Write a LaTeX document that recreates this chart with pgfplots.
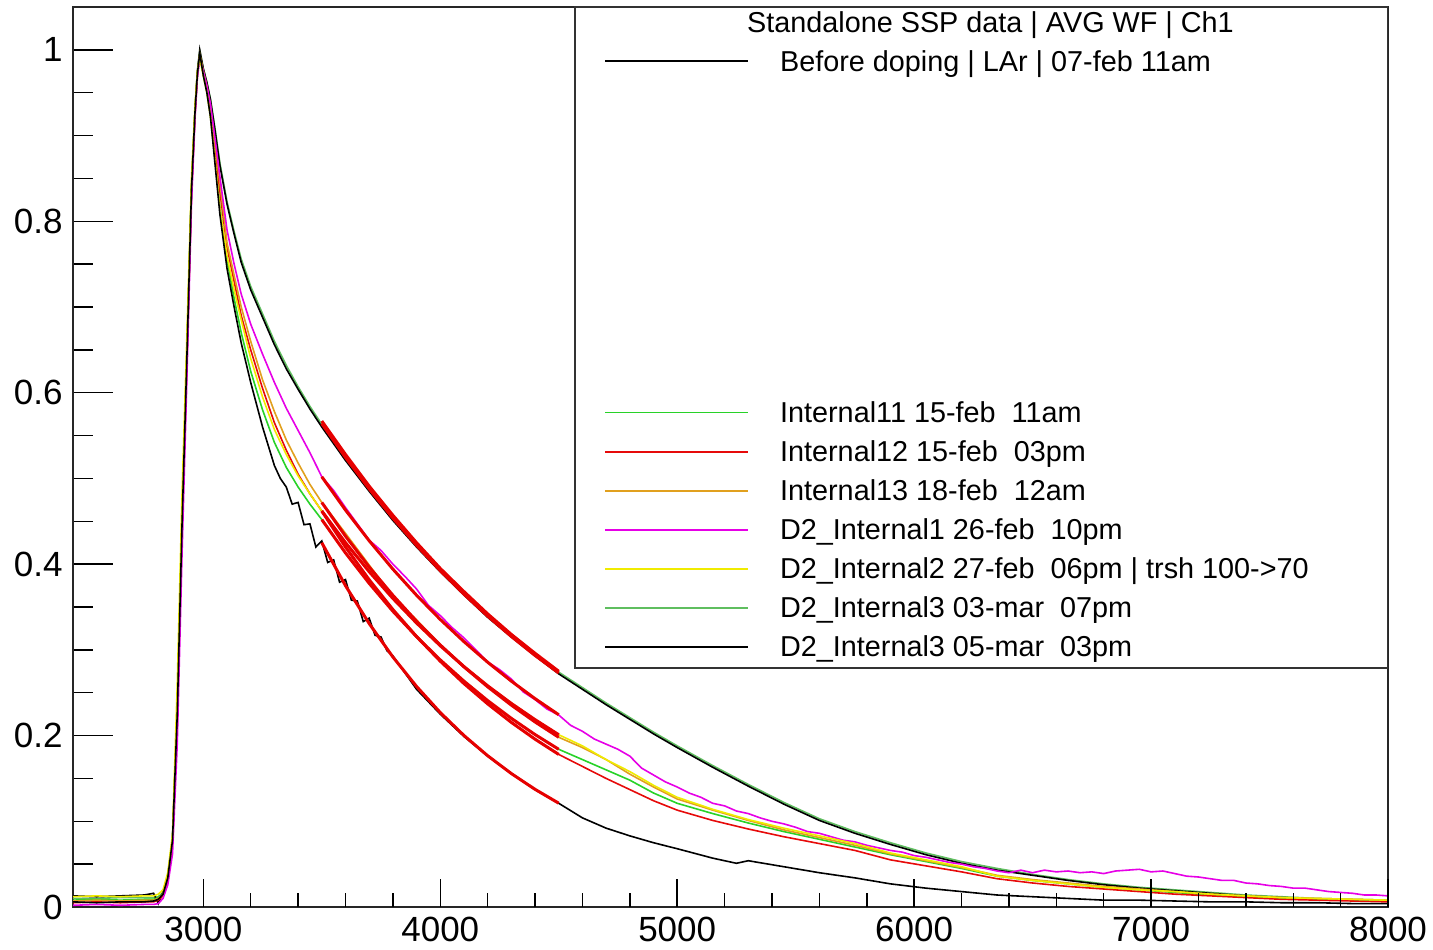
\documentclass[border=0pt]{standalone}
\usepackage{fontspec}
\setmainfont{Liberation Sans}
\usepackage{pgfplots}
\usepackage{pgfplotstable}
\pgfplotsset{compat=1.18}
\definecolor{cGreen}{RGB}{40,210,40}
\definecolor{cIntR}{RGB}{230,10,10}
\definecolor{cOrange}{RGB}{225,160,30}
\definecolor{cMag}{RGB}{230,0,230}
\definecolor{cYel}{RGB}{240,235,0}
\definecolor{cGreenB}{RGB}{95,190,95}
\definecolor{cFit}{RGB}{230,0,0}

% x | Before doping | Int11 | Int12 | Int13 | D2_Int2 | D2_Int3 03-mar
\pgfplotstableread{
x    B0    G1    R2    O3    Y5    G6
2450 0.013 0.008 0.005 0.007 0.012 0.010
2550 0.012 0.009 0.006 0.008 0.013 0.010
2650 0.013 0.008 0.005 0.007 0.012 0.011
2750 0.014 0.009 0.006 0.008 0.013 0.011
2790 0.016 0.009 0.006 0.008 0.013 0.011
2810 0.004 0.011 0.008 0.010 0.015 0.012
2830 0.018 0.016 0.013 0.015 0.020 0.017
2850 0.036 0.035 0.032 0.034 0.040 0.036
2870 0.080 0.078 0.075 0.076 0.085 0.079
2890 0.230 0.225 0.220 0.222 0.260 0.228
2910 0.450 0.445 0.440 0.442 0.480 0.448
2930 0.640 0.635 0.630 0.632 0.660 0.638
2950 0.840 0.835 0.832 0.834 0.850 0.838
2965 0.930 0.928 0.925 0.927 0.935 0.930
2975 0.975 0.972 0.970 0.972 0.975 0.974
2985 1.000 0.995 0.993 0.995 0.990 0.998
3000 0.978 0.972 0.972 0.975 0.970 0.978
3015 0.962 0.952 0.955 0.958 0.950 0.962
3030 0.942 0.925 0.930 0.935 0.922 0.943
3050 0.905 0.872 0.882 0.890 0.870 0.907
3070 0.865 0.818 0.835 0.845 0.815 0.868
3100 0.820 0.755 0.770 0.775 0.760 0.823
3130 0.785 0.710 0.730 0.737 0.720 0.788
3160 0.752 0.670 0.690 0.700 0.685 0.756
3200 0.720 0.625 0.650 0.660 0.640 0.724
3250 0.688 0.580 0.605 0.615 0.595 0.692
3300 0.656 0.542 0.565 0.578 0.557 0.660
3350 0.628 0.513 0.533 0.545 0.528 0.632
3400 0.604 0.490 0.505 0.518 0.503 0.607
3450 0.581 0.470 0.482 0.493 0.482 0.584
3500 0.560 0.452 0.462 0.472 0.462 0.563
3600 0.521 0.413 0.420 0.436 0.425 0.524
3700 0.485 0.378 0.382 0.399 0.393 0.488
3800 0.451 0.345 0.347 0.362 0.360 0.454
3900 0.420 0.315 0.316 0.335 0.331 0.423
4000 0.391 0.288 0.287 0.306 0.305 0.394
4100 0.364 0.264 0.261 0.280 0.281 0.366
4200 0.338 0.241 0.237 0.257 0.258 0.340
4300 0.315 0.220 0.215 0.236 0.238 0.317
4400 0.293 0.201 0.196 0.216 0.219 0.295
4500 0.272 0.184 0.178 0.198 0.201 0.274
4600 0.254 0.172 0.164 0.186 0.188 0.256
4700 0.236 0.160 0.150 0.172 0.172 0.238
4800 0.219 0.148 0.137 0.155 0.158 0.221
4900 0.202 0.133 0.124 0.140 0.142 0.204
5000 0.186 0.121 0.113 0.126 0.128 0.188
5150 0.163 0.109 0.101 0.113 0.114 0.165
5300 0.141 0.098 0.091 0.101 0.102 0.143
5450 0.120 0.088 0.082 0.090 0.092 0.122
5600 0.101 0.079 0.074 0.081 0.083 0.103
5750 0.086 0.070 0.066 0.072 0.074 0.088
5900 0.073 0.061 0.055 0.062 0.063 0.075
6050 0.061 0.053 0.048 0.054 0.055 0.063
6200 0.051 0.045 0.041 0.046 0.047 0.053
6350 0.043 0.036 0.033 0.037 0.036 0.045
6500 0.037 0.031 0.028 0.032 0.031 0.038
6650 0.031 0.027 0.024 0.028 0.027 0.032
6800 0.026 0.023 0.021 0.024 0.023 0.027
6950 0.022 0.020 0.018 0.021 0.020 0.023
7100 0.019 0.017 0.015 0.018 0.018 0.020
7250 0.016 0.014 0.013 0.015 0.015 0.017
7400 0.013 0.012 0.011 0.013 0.013 0.014
7550 0.011 0.010 0.009 0.011 0.011 0.012
7700 0.009 0.009 0.008 0.010 0.010 0.010
7850 0.008 0.008 0.007 0.009 0.009 0.009
8000 0.007 0.007 0.006 0.008 0.008 0.008
}\wftab

% D2_Internal1 26-feb (magenta)
\pgfplotstableread{
x    y
2450 0.002
2550 0.003
2650 0.002
2750 0.003
2790 0.003
2810 0.004
2830 0.010
2850 0.026
2870 0.062
2890 0.190
2910 0.410
2930 0.610
2950 0.820
2965 0.920
2975 0.968
2985 0.990
3000 0.975
3015 0.958
3030 0.937
3050 0.895
3070 0.852
3100 0.790
3130 0.750
3160 0.715
3200 0.680
3250 0.645
3300 0.612
3350 0.582
3400 0.556
3450 0.530
3500 0.502
3550 0.486
3600 0.466
3650 0.447
3700 0.428
3750 0.416
3800 0.400
3850 0.386
3900 0.371
3950 0.352
4000 0.340
4050 0.326
4100 0.314
4150 0.300
4200 0.286
4250 0.277
4300 0.266
4350 0.251
4400 0.242
4450 0.231
4500 0.224
4550 0.212
4600 0.205
4650 0.196
4700 0.190
4750 0.184
4800 0.176
4850 0.162
4900 0.154
4950 0.146
5000 0.140
5050 0.133
5100 0.128
5150 0.121
5200 0.118
5250 0.112
5300 0.109
5350 0.104
5400 0.100
5450 0.097
5500 0.093
5550 0.088
5600 0.086
5650 0.082
5700 0.078
5750 0.076
5800 0.072
5850 0.069
5900 0.066
5950 0.064
6000 0.060
6050 0.058
6100 0.055
6150 0.052
6200 0.050
6250 0.047
6300 0.045
6350 0.042
6400 0.040
6450 0.043
6500 0.040
6550 0.043
6600 0.041
6650 0.042
6700 0.040
6750 0.041
6800 0.039
6850 0.042
6900 0.043
6950 0.044
7000 0.041
7050 0.042
7100 0.039
7150 0.036
7200 0.035
7250 0.033
7300 0.031
7350 0.031
7400 0.028
7450 0.027
7500 0.025
7550 0.024
7600 0.022
7650 0.022
7700 0.020
7750 0.018
7800 0.017
7850 0.016
7900 0.014
7950 0.014
8000 0.013
}\magtab

% D2_Internal3 05-mar (black, lowest)
\pgfplotstableread{
x    y
2450 0.006
2550 0.005
2650 0.006
2750 0.006
2790 0.007
2810 0.009
2830 0.015
2850 0.034
2870 0.078
2890 0.225
2910 0.445
2930 0.635
2950 0.836
2965 0.928
2975 0.972
2985 0.996
3000 0.970
3015 0.950
3030 0.922
3050 0.865
3070 0.808
3100 0.745
3130 0.700
3160 0.658
3200 0.612
3250 0.560
3300 0.515
3325 0.500
3350 0.490
3375 0.470
3400 0.472
3425 0.446
3450 0.447
3475 0.420
3500 0.427
3525 0.402
3550 0.405
3575 0.379
3600 0.382
3625 0.358
3650 0.357
3675 0.333
3700 0.337
3725 0.317
3750 0.315
3775 0.299
3800 0.293
3900 0.254
4000 0.225
4100 0.199
4200 0.176
4300 0.156
4400 0.137
4500 0.121
4600 0.104
4700 0.092
4800 0.083
4900 0.075
5000 0.068
5150 0.057
5250 0.051
5300 0.054
5450 0.047
5600 0.040
5750 0.034
5900 0.027
6050 0.022
6200 0.018
6350 0.014
6500 0.012
6650 0.010
6800 0.008
6950 0.008
7100 0.007
7250 0.006
7400 0.006
7550 0.005
7700 0.005
7850 0.004
8000 0.004
}\blktab

% exponential fits, 3500-4500
\pgfplotstableread{
x    B0     G1     R2     O3     M4     Y5     G6     B7
3500 0.564  0.452  0.462  0.472  0.502  0.462  0.567  0.425
3600 0.5245 0.4131 0.4200 0.4327 0.4631 0.4251 0.528  0.3749
3700 0.4878 0.3776 0.3818 0.3967 0.4273 0.3912 0.491  0.3307
3800 0.4537 0.3451 0.3471 0.3637 0.3942 0.3600 0.457  0.2917
3900 0.4219 0.3154 0.3155 0.3334 0.3637 0.3313 0.425  0.2573
4000 0.3924 0.2883 0.2868 0.3057 0.3355 0.3048 0.395  0.2269
4100 0.3649 0.2635 0.2607 0.2802 0.3096 0.2805 0.368  0.2001
4200 0.3394 0.2408 0.2370 0.2569 0.2856 0.2581 0.342  0.1765
4300 0.3156 0.2201 0.2154 0.2355 0.2635 0.2375 0.318  0.1557
4400 0.2935 0.2012 0.1958 0.2159 0.2431 0.2186 0.296  0.1373
4500 0.2730 0.1840 0.1780 0.1980 0.2243 0.2010 0.275  0.1211
}\fittab

\begin{document}
\begin{tikzpicture}
\useasboundingbox (-36.5pt,-21pt) rectangle (680pt,453.5pt);
\begin{axis}[
  at={(0,0)}, anchor=south west,
  scale only axis, width=657.5pt, height=450pt,
  xmin=2450, xmax=8000, ymin=0, ymax=1.05,
  axis line style={line width=1pt, black!85},
  tick pos=left, tick align=inside,
  xtick=\empty,
  ytick={0,0.2,0.4,0.6,0.8,1},
  minor ytick={0.05,0.1,0.15,0.25,0.3,0.35,0.45,0.5,0.55,0.65,0.7,0.75,0.85,0.9,0.95},
  major tick length=20pt, minor tick length=10pt,
  tick style={line width=0.75pt, black},
  /pgf/number format/assume math mode=true,
  /pgf/number format/1000 sep={},
  scaled ticks=false,
  yticklabel style={font=\fontsize{17.5}{20}\selectfont, inner sep=0pt, /pgf/number format/fixed},
  yticklabel shift=5pt,
  legend image code/.code={\path (0pt,0pt) (101.5pt,0pt); \draw[#1] (14.5pt,0pt) -- (86pt,0pt);},
  legend cell align=left,
  legend style={at={(axis cs:4570,1.05)}, anchor=north west, yshift=2.27pt,
    draw=none, fill=none, inner sep=0pt, outer sep=0pt, row sep=0pt, column sep=0pt,
    font=\fontsize{14.4}{17}\selectfont,
    nodes={inner sep=0pt, outer sep=0pt, text height=14.77pt, text depth=4.76pt}},
]
\addplot[forget plot, cGreenB, line width=0.8pt] table[x=x,y=G6]{\wftab};
\addplot[forget plot, black, line width=0.8pt] table[x=x,y=B0]{\wftab};
\addplot[forget plot, cGreen, line width=0.8pt] table[x=x,y=G1]{\wftab};
\addplot[forget plot, cIntR, line width=0.8pt] table[x=x,y=R2]{\wftab};
\addplot[forget plot, cOrange, line width=0.8pt] table[x=x,y=O3]{\wftab};
\addplot[forget plot, cMag, line width=0.8pt] table[x=x,y=y]{\magtab};
\addplot[forget plot, cYel, line width=0.8pt] table[x=x,y=Y5]{\wftab};
\addplot[forget plot, black, line width=0.8pt] table[x=x,y=y]{\blktab};

\addplot[forget plot, cFit, line width=1.5pt] table[x=x,y=B0]{\fittab};
\addplot[forget plot, cFit, line width=1.5pt] table[x=x,y=G6]{\fittab};
\addplot[forget plot, cFit, line width=1.5pt] table[x=x,y=M4]{\fittab};
\addplot[forget plot, cFit, line width=1.5pt] table[x=x,y=O3]{\fittab};
\addplot[forget plot, cFit, line width=1.5pt] table[x=x,y=Y5]{\fittab};
\addplot[forget plot, cFit, line width=1.5pt] table[x=x,y=G1]{\fittab};
\addplot[forget plot, cFit, line width=1.5pt] table[x=x,y=R2]{\fittab};
\addplot[forget plot, cFit, line width=1.5pt] table[x=x,y=B7]{\fittab};

\draw[line width=0.9pt, black!80, fill=white] (axis cs:4570,0.279) rectangle (axis cs:8000,1.05);

\addlegendimage{empty legend}\addlegendentry{\hspace*{-16.5pt}Standalone SSP data | AVG WF | Ch1}
\addlegendimage{draw=black, line width=0.8pt}\addlegendentry{Before doping | LAr | 07-feb 11am}
\addlegendimage{empty legend}\addlegendentry{~}
\addlegendimage{empty legend}\addlegendentry{~}
\addlegendimage{empty legend}\addlegendentry{~}
\addlegendimage{empty legend}\addlegendentry{~}
\addlegendimage{empty legend}\addlegendentry{~}
\addlegendimage{empty legend}\addlegendentry{~}
\addlegendimage{empty legend}\addlegendentry{~}
\addlegendimage{empty legend}\addlegendentry{~}
\addlegendimage{draw=cGreen, line width=0.8pt}\addlegendentry{Internal11 15-feb~ 11am}
\addlegendimage{draw=cIntR, line width=0.9pt}\addlegendentry{Internal12 15-feb~ 03pm}
\addlegendimage{draw=cOrange, line width=0.8pt}\addlegendentry{Internal13 18-feb~ 12am}
\addlegendimage{draw=cMag, line width=0.8pt}\addlegendentry{D2\_Internal1 26-feb~ 10pm}
\addlegendimage{draw=cYel, line width=0.8pt}\addlegendentry{D2\_Internal2 27-feb~ 06pm | trsh 100->70}
\addlegendimage{draw=cGreenB, line width=0.8pt}\addlegendentry{D2\_Internal3 03-mar~ 07pm}
\addlegendimage{draw=black, line width=0.8pt}\addlegendentry{D2\_Internal3 05-mar~ 03pm}
\end{axis}
\begin{axis}[
  at={(0,0)}, anchor=south west,
  scale only axis, width=657.5pt, height=450pt,
  xmin=2450, xmax=8000, ymin=0, ymax=1.05,
  axis line style={draw=none},
  tick pos=left, tick align=inside,
  ytick=\empty,
  xtick={3000,4000,5000,6000,7000,8000},
  minor xtick={3200,3400,3600,3800,4200,4400,4600,4800,5200,5400,5600,5800,6200,6400,6600,6800,7200,7400,7600,7800},
  major tick length=14pt, minor tick length=7pt,
  tick style={line width=0.75pt, black},
  /pgf/number format/assume math mode=true,
  /pgf/number format/1000 sep={},
  scaled ticks=false,
  xticklabel style={font=\fontsize{17.5}{20}\selectfont, inner sep=0pt},
  xticklabel shift=5pt,
]
\end{axis}
\end{tikzpicture}
\end{document}
